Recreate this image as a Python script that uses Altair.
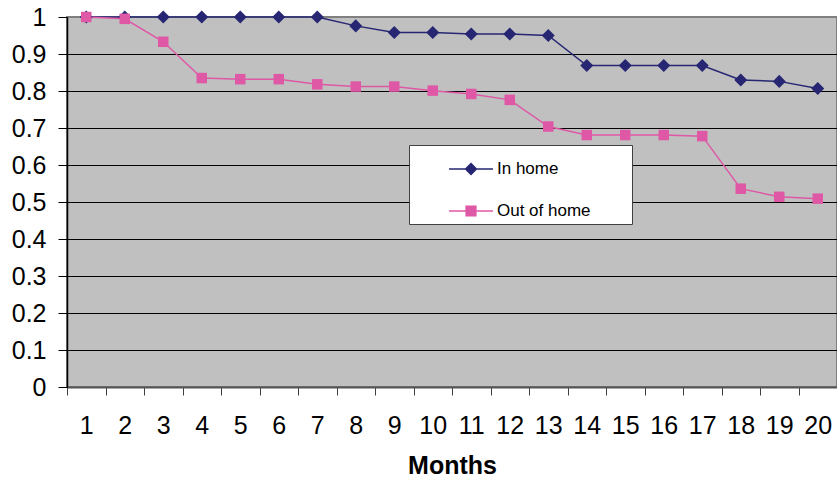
import altair as alt
import pandas as pd

# Survival proportion by month for the two placement groups
months = list(range(1, 21))
in_home = [1.0, 1.0, 1.0, 1.0, 1.0, 1.0, 1.0, 0.976, 0.958, 0.958,
           0.954, 0.954, 0.950, 0.869, 0.869, 0.869, 0.869, 0.830, 0.826, 0.807]
out_of_home = [1.0, 0.995, 0.933, 0.835, 0.832, 0.832, 0.818, 0.812, 0.812, 0.801,
               0.792, 0.776, 0.704, 0.681, 0.681, 0.681, 0.678, 0.536, 0.514, 0.509]
series_names = ["In home", "Out of home"]
series_colors = ["#262673", "#DE58A6"]
y_ticks = [0, 0.1, 0.2, 0.3, 0.4, 0.5, 0.6, 0.7, 0.8, 0.9, 1]

rows = []
for name, values in zip(series_names, [in_home, out_of_home]):
    for m, v in zip(months, values):
        rows.append({"Month": m, "Value": v, "Series": name})
df = pd.DataFrame(rows)

FONT = "Liberation Sans"

x_enc = alt.X(
    "Month:O",
    scale=alt.Scale(type="band", paddingInner=0, paddingOuter=0),
    axis=alt.Axis(
        title="Months", labelAngle=0, labelFont=FONT, labelFontSize=25,
        labelColor="black", labelPadding=18, tickBand="extent", tickSize=8,
        tickColor="#404040", domainColor="#555555", domainWidth=2,
        titleFont=FONT, titleFontSize=25, titleFontWeight="bold",
        titleColor="black", titlePadding=15, grid=False,
    ),
)
y_enc = alt.Y(
    "Value:Q",
    scale=alt.Scale(domain=[0, 1], nice=False, zero=True),
    axis=alt.Axis(
        title=None, values=y_ticks, format=".1~f", labelFont=FONT,
        labelFontSize=25, labelColor="black", labelPadding=12, tickSize=9,
        tickColor="black", domainColor="black", domainWidth=1.5,
        grid=True, gridWidth=1,
        gridColor={"condition": {"test": "datum.value >= 1", "value": "#808080"},
                   "value": "black"},
    ),
)
color_scale = alt.Scale(domain=series_names, range=series_colors)

# Legend symbols: a short line segment with the series marker on it
diamond_path = "M-1.22,0L1.22,0M0,-0.3L0.3,0L0,0.3L-0.3,0Z"
square_path = "M-1.22,0L1.22,0M-0.27,-0.27L0.27,-0.27L0.27,0.27L-0.27,0.27Z"
label_pad = "\u2800" * 3  # blank glyphs that keep room on the right of the legend box

legend = alt.Legend(
    title=None, orient="none", legendX=342, legendY=128,
    fillColor="white", strokeColor="#404040", padding=5,
    symbolSize=1296, symbolOffset=38, labelOffset=7, rowPadding=14,
    symbolStrokeWidth=1.5, labelFont=FONT, labelFontSize=17,
    labelColor="black", labelLimit=300,
    labelExpr=f"datum.label + '{label_pad}'",
    symbolType=alt.ExprRef(
        expr=f"datum.value === 'In home' ? '{diamond_path}' : '{square_path}'"),
    symbolStrokeColor=alt.ExprRef(expr="scale('color', datum.value)"),
    symbolFillColor=alt.ExprRef(expr="scale('color', datum.value)"),
)
color_enc = alt.Color("Series:N", scale=color_scale, legend=legend)

base = alt.Chart(df).encode(x=x_enc, y=y_enc, color=color_enc)

lines = base.mark_line(strokeWidth=1.5).encode(detail="Series:N")

diamonds = base.transform_filter(
    alt.datum.Series == series_names[0]
).mark_point(filled=True, shape="diamond", size=170, opacity=1)

squares = base.transform_filter(
    alt.datum.Series == series_names[1]
).mark_point(filled=True, shape="square", size=110, opacity=1)

chart = alt.layer(lines, diamonds, squares).properties(
    width=770, height=370,
    autosize=alt.AutoSizeParams(type="none"),
    padding={"left": 67, "top": 17, "right": 0, "bottom": 92},
    background="white",
).configure_view(
    fill="#C0C0C0", stroke="#808080", strokeWidth=2,
)

chart.save("out.html", embed_options={"renderer": "svg", "actions": False})
